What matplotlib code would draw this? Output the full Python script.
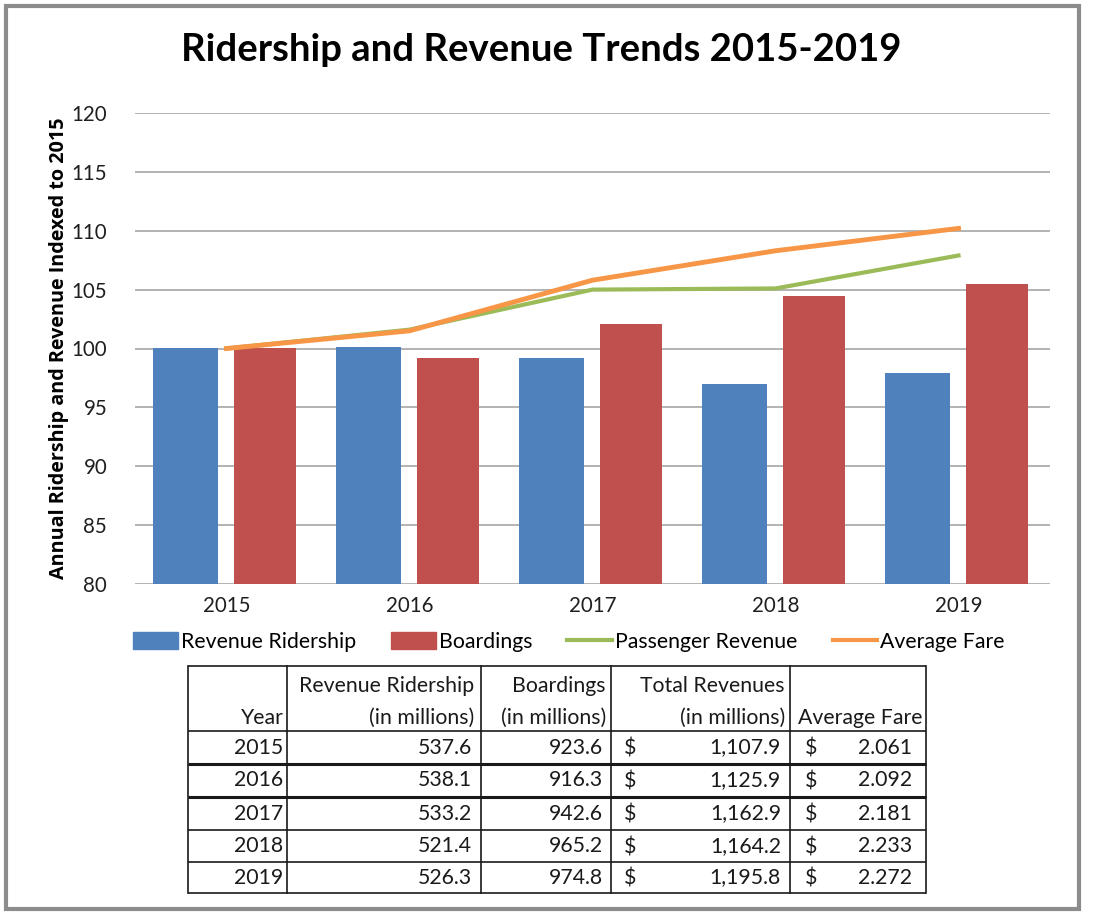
import matplotlib
matplotlib.use("Agg")
import matplotlib.pyplot as plt
from matplotlib.patches import Rectangle
from matplotlib.lines import Line2D

plt.rcParams['font.family'] = ['Lato', 'DejaVu Sans']

years = ["2015", "2016", "2017", "2018", "2019"]
revenue_ridership_idx = [100.0, 100.1, 99.2, 97.0, 97.9]
boardings_idx = [100.0, 99.2, 102.1, 104.5, 105.5]
passenger_revenue_idx = [100.0, 101.6, 105.0, 105.1, 107.9]
average_fare_idx = [100.0, 101.5, 105.8, 108.3, 110.2]

tbl_ridership = ["537.6", "538.1", "533.2", "521.4", "526.3"]
tbl_boardings = ["923.6", "916.3", "942.6", "965.2", "974.8"]
tbl_revenues = ["1,107.9", "1,125.9", "1,162.9", "1,164.2", "1,195.8"]
tbl_fare = ["2.061", "2.092", "2.181", "2.233", "2.272"]

BLUE = "#4F81BD"
RED = "#C0504D"
GREEN = "#9BBB59"
ORANGE = "#F79646"

W, H = 1094, 916
fig = plt.figure(figsize=(W / 100, H / 100), dpi=100)
fig.patch.set_facecolor("white")

# background overlay axes in pixel coords
bg = fig.add_axes([0, 0, 1, 1], zorder=-5)
bg.set_xlim(0, W)
bg.set_ylim(H, 0)
bg.axis("off")
bg.add_patch(Rectangle((6, 6), 1073, 903, fill=False, edgecolor="#8C8C8C", lw=3))

# main chart axes
ax_l, ax_r, ax_t, ax_b = 135, 1050, 113, 584
ax = fig.add_axes([ax_l / W, 1 - ax_b / H, (ax_r - ax_l) / W, (ax_b - ax_t) / H])
x = list(range(len(years)))
ax.bar([i - 0.225 for i in x], [v - 80 for v in revenue_ridership_idx], 0.355, bottom=80,
       color=BLUE, label="Revenue Ridership", zorder=2)
ax.bar([i + 0.21 for i in x], [v - 80 for v in boardings_idx], 0.335, bottom=80,
       color=RED, label="Boardings", zorder=2)
ax.plot(x, passenger_revenue_idx, color=GREEN, lw=3, label="Passenger Revenue", zorder=3)
ax.plot(x, average_fare_idx, color=ORANGE, lw=3.5, label="Average Fare", zorder=4)

ax.set_xlim(-0.5, 4.5)
ax.set_ylim(80, 120)
ax.set_yticks(range(80, 121, 5))
ax.set_xticks(x)
ax.set_xticklabels(years)
ax.yaxis.grid(True, color="#A6A6A6", lw=1.2, zorder=0)
ax.set_axisbelow(True)
for s in ax.spines.values():
    s.set_visible(False)
ax.tick_params(axis="both", length=0, labelsize=14.8, colors="#1F1F1F")
ax.tick_params(axis="y", pad=20)
ax.tick_params(axis="x", pad=9)
ax.set_ylabel("Annual Ridership and Revenue Indexed to 2015", fontsize=14.2,
              fontweight="bold", family=["Open Sans", "DejaVu Sans"])
ax.yaxis.set_label_coords(-0.072, 0.5)

fig.text(541 / W, 1 - 50 / H, "Ridership and Revenue Trends 2015-2019", ha="center", va="center",
         fontsize=27.5, fontweight="bold")

handles = [Rectangle((0, 0), 1, 1, color=BLUE), Rectangle((0, 0), 1, 1, color=RED),
           Line2D([0], [0], color=GREEN, lw=3), Line2D([0], [0], color=ORANGE, lw=3)]
labels = ["Revenue Ridership", "Boardings", "Passenger Revenue", "Average Fare"]
fig.legend(handles, labels, loc="center", bbox_to_anchor=(569 / W, 1 - 642 / H), ncol=4,
           frameon=False, fontsize=15.3, handlelength=2.1, handleheight=0.85, handletextpad=0.15,
           columnspacing=1.65, borderpad=0.1)

# table drawn in pixel coordinates
cols = [188, 287, 481, 611, 790, 926]
rows = [666, 731, 764, 797, 830, 862, 893]
bg2 = fig.add_axes([0, 0, 1, 1], zorder=5)
bg2.set_xlim(0, W)
bg2.set_ylim(H, 0)
bg2.axis("off")
lc = "#1A1A1A"
for cx in cols:
    bg2.plot([cx, cx], [rows[0], rows[-1]], color=lc, lw=1.2)
for i, ry in enumerate(rows):
    lw = 2.2 if i in (2, 3) else 1.2
    bg2.plot([cols[0], cols[-1]], [ry, ry], color=lc, lw=lw, solid_capstyle="butt")

fs = 15.3
tc = "#1A1A1A"
l1, l2 = 686, 718
bg2.text(cols[1] - 3, l2, "Year", ha="right", va="center", fontsize=fs, color=tc)
bg2.text(cols[2] - 7, l1, "Revenue Ridership", ha="right", va="center", fontsize=fs, color=tc)
bg2.text(cols[2] - 7, l2, "(in millions)", ha="right", va="center", fontsize=fs, color=tc)
bg2.text(cols[3] - 5, l1, "Boardings", ha="right", va="center", fontsize=fs, color=tc)
bg2.text(cols[3] - 5, l2, "(in millions)", ha="right", va="center", fontsize=fs, color=tc)
bg2.text(cols[4] - 5, l1, "Total Revenues", ha="right", va="center", fontsize=fs, color=tc)
bg2.text(cols[4] - 5, l2, "(in millions)", ha="right", va="center", fontsize=fs, color=tc)
bg2.text(cols[5] - 4, l2, "Average Fare", ha="right", va="center", fontsize=fs, color=tc)

for i in range(len(years)):
    yc = (rows[i + 1] + rows[i + 2]) / 2
    bg2.text(cols[1] - 4, yc, years[i], ha="right", va="center", fontsize=fs, color=tc)
    bg2.text(cols[2] - 9, yc, tbl_ridership[i], ha="right", va="center", fontsize=fs, color=tc)
    bg2.text(cols[3] - 8, yc, tbl_boardings[i], ha="right", va="center", fontsize=fs, color=tc)
    bg2.text(cols[3] + 13, yc + 1, "$", ha="left", va="center", fontsize=fs, color=tc)
    bg2.text(cols[4] - 9, yc, tbl_revenues[i], ha="right", va="center", fontsize=fs, color=tc)
    bg2.text(cols[4] + 15, yc + 1, "$", ha="left", va="center", fontsize=fs, color=tc)
    bg2.text(cols[5] - 14, yc, tbl_fare[i], ha="right", va="center", fontsize=fs, color=tc)

fig.savefig("out.png", dpi=100)
